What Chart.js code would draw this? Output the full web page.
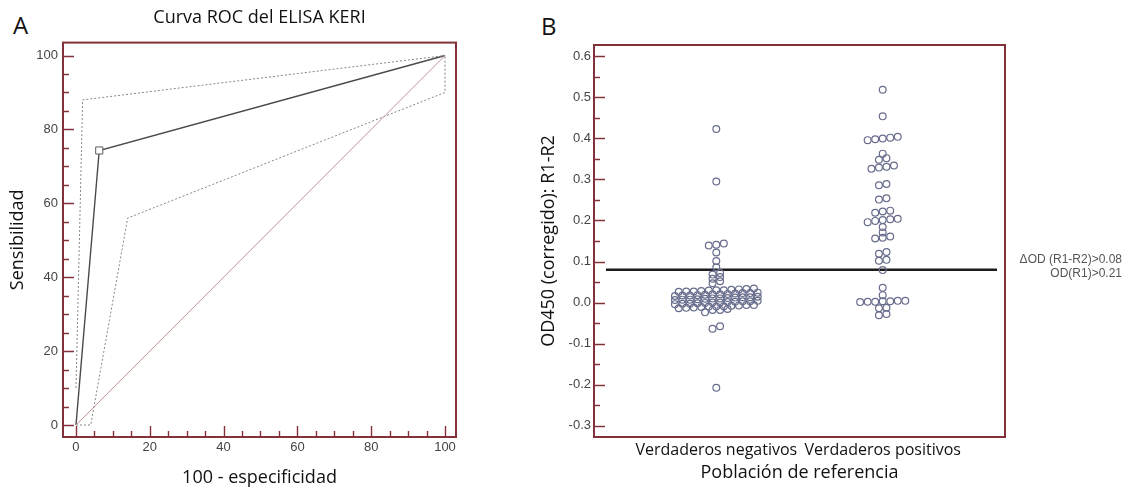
<!DOCTYPE html>
<html>
<head>
<meta charset="utf-8">
<script src="https://cdn.jsdelivr.net/npm/chart.js@4.4.1/dist/chart.umd.min.js"></script>
<style>
  body { margin: 0; background: #fff; width: 1136px; height: 491px; overflow: hidden; position: relative; }
  .panel { position: absolute; top: 0; }
  #wrapA { left: 0; }
  #wrapB { left: 520px; }
  .letra { position: absolute; font: 24px "Open Sans", sans-serif; color: #111; line-height: normal; }
</style>
</head>
<body>
<div class="letra" style="left:13px;top:8px">A</div>
<div class="letra" style="left:541px;top:9px">B</div>
<div class="panel" id="wrapA"><canvas id="roc" width="490" height="491"></canvas></div>
<div class="panel" id="wrapB"><canvas id="dots" width="616" height="491"></canvas></div>
<script>
// --- curva ROC ---
const rocFpr = [0, 6.3, 100];
const rocSens = [0, 74.3, 100];
const corteIdx = 1;                       // criterio óptimo (marcador cuadrado)
const icSupFpr = [0, 1.8, 100];
const icSupSens = [10, 88, 100];
const icInfFpr = [0, 4, 14, 100, 100];
const icInfSens = [0, 0, 56, 90, 100];
const diagonal = [0, 100];

// --- dot plot ---
const categorias = ['Verdaderos negativos', 'Verdaderos positivos'];
const negativos = [
  0.423, 0.295, 0.139, 0.141, 0.144, 0.122, 0.101, 0.086, 0.068, 0.072, 0.058, 0.062, 0.047, 0.052,
  0.026, 0.027, 0.027, 0.028, 0.029, 0.030, 0.030, 0.031, 0.032, 0.033, 0.034,
  0.016, 0.017, 0.017, 0.018, 0.019, 0.020, 0.020, 0.021, 0.022, 0.023, 0.023, 0.024,
  0.006, 0.007, 0.007, 0.008, 0.009, 0.010, 0.010, 0.011, 0.012, 0.013, 0.013, 0.014,
  -0.004, -0.003, -0.003, -0.002, -0.001, 0.000, 0.000, 0.001, 0.002, 0.003, 0.003, 0.004,
  -0.014, -0.013, -0.012, -0.011, -0.010, -0.010, -0.009, -0.008, -0.007, -0.006, -0.006,
  -0.024, -0.018, -0.018, -0.016, -0.064, -0.058, -0.208
];
const positivos = [
  0.519, 0.454, 0.396, 0.398, 0.400, 0.402, 0.404, 0.363, 0.348, 0.352,
  0.326, 0.329, 0.331, 0.334, 0.286, 0.289, 0.251, 0.254, 0.219, 0.222, 0.224,
  0.196, 0.199, 0.201, 0.203, 0.204, 0.184, 0.171, 0.156, 0.158, 0.161,
  0.119, 0.123, 0.102, 0.104, 0.079, 0.036, 0.018,
  0.001, 0.002, 0.002, 0.003, 0.003, 0.004, 0.004, -0.013, -0.014, -0.028, -0.031
];
const corte = 0.08;
const corteTexto = ['\u0394OD (R1-R2)>0.08', 'OD(R1)>0.21'];

const granate = '#82303a';
const fTick = { family: 'Liberation Sans', size: 13 };
const fTitulo = { family: 'Open Sans', size: 18, weight: 'normal' };

const zip = (xs, ys) => xs.map((x, i) => ({ x: x, y: ys[i] }));

// filas del dot plot: agrupa por 0.01 y reparte en horizontal, ordenado de menor a mayor
const binDots = 0.01, gapDots = 0.0452;
function enjambre(valores, centro) {
  const filas = new Map();
  valores.forEach(v => {
    const k = Math.round(v / binDots);
    if (!filas.has(k)) filas.set(k, []);
    filas.get(k).push(v);
  });
  const pts = [];
  filas.forEach(fila => {
    fila.sort((a, b) => a - b);
    fila.forEach((v, i) => pts.push({ x: centro + (i - (fila.length - 1) / 2) * gapDots, y: v }));
  });
  return pts;
}

// marco granate con marcas hacia dentro
const marco = {
  id: 'marco',
  afterDraw(chart, args, o) {
    const { ctx, chartArea: a } = chart;
    ctx.save();
    ctx.strokeStyle = granate;
    ctx.lineWidth = 2;
    ctx.strokeRect(a.left, a.top, a.right - a.left, a.bottom - a.top);
    ctx.lineWidth = 1.4;
    ctx.beginPath();
    const ys = chart.scales.y;
    for (let i = 0; i <= o.yN; i++) {
      const py = Math.round(ys.getPixelForValue(o.yFrom + i * o.yStep)) + 0.5;
      const len = i % o.yMajor === 0 ? 11 : 6;
      ctx.moveTo(a.left, py); ctx.lineTo(a.left + len, py);
    }
    if (o.xN) {
      const xs = chart.scales.x;
      for (let i = 0; i <= o.xN; i++) {
        const px = Math.round(xs.getPixelForValue(o.xFrom + i * o.xStep)) + 0.5;
        const len = i % o.xMajor === 0 ? 11 : 6;
        ctx.moveTo(px, a.bottom); ctx.lineTo(px, a.bottom - len);
      }
    }
    ctx.stroke();
    ctx.restore();
  }
};

// línea de corte y su leyenda
const lineaCorte = {
  id: 'lineaCorte',
  beforeDatasetsDraw(chart) {
    const { ctx, chartArea: a } = chart;
    const py = chart.scales.y.getPixelForValue(corte);
    ctx.save();
    ctx.strokeStyle = '#1c1c1c';
    ctx.lineWidth = 2.5;
    ctx.beginPath();
    ctx.moveTo(a.left + 12, py); ctx.lineTo(a.right - 8, py);
    ctx.stroke();
    ctx.fillStyle = '#555';
    ctx.font = '12px "Liberation Sans"';
    ctx.textAlign = 'right';
    ctx.textBaseline = 'middle';
    ctx.fillText(corteTexto[0], a.right + 117, py - 10);
    ctx.fillText(corteTexto[1], a.right + 117, py + 4);
    ctx.restore();
  }
};

const lineaBase = { showLine: true, pointRadius: 0, borderWidth: 1, fill: false };

new Chart(document.getElementById('roc'), {
  type: 'scatter',
  data: {
    datasets: [
      Object.assign({ data: zip(diagonal, diagonal), borderColor: '#b99690' }, lineaBase),
      Object.assign({ data: zip(icSupFpr, icSupSens), borderColor: '#858585', borderDash: [2, 2] }, lineaBase),
      Object.assign({ data: zip(icInfFpr, icInfSens), borderColor: '#858585', borderDash: [2, 2] }, lineaBase),
      {
        data: zip(rocFpr, rocSens), showLine: true, borderColor: '#4a4a4a', borderWidth: 1.4,
        pointStyle: 'rect', pointRadius: c => c.dataIndex === corteIdx ? 5 : 0,
        pointBackgroundColor: '#fff', pointBorderColor: '#5a5a5a', pointBorderWidth: 1
      }
    ]
  },
  options: {
    responsive: false, animation: false, events: [],
    layout: { padding: { left: 0, right: 34, top: 0, bottom: 0 } },
    plugins: {
      legend: { display: false }, tooltip: { enabled: false },
      title: { display: true, text: 'Curva ROC del ELISA KERI', font: fTitulo, color: '#111',
               padding: { top: 7, bottom: 14 }, fullSize: false },
      marco: { yFrom: 0, yStep: 5, yN: 20, yMajor: 4, xFrom: 0, xStep: 5, xN: 20, xMajor: 4 }
    },
    scales: {
      x: {
        type: 'linear', min: -3.52, max: 102.98,
        ticks: { stepSize: 20, includeBounds: false, padding: 3, color: '#444', font: fTick, maxRotation: 0 },
        grid: { display: false, drawTicks: false }, border: { display: false },
        title: { display: true, text: '100 - especificidad', font: fTitulo, color: '#111', padding: { top: 0, bottom: 2 } },
        afterFit(s) { s.height = 54; }
      },
      y: {
        type: 'linear', min: -3.25, max: 103.5,
        ticks: { stepSize: 20, includeBounds: false, padding: 5, color: '#444', font: fTick },
        grid: { display: false, drawTicks: false }, border: { display: false },
        title: { display: true, text: 'Sensibilidad', font: fTitulo, color: '#111', padding: { top: 7, bottom: 0 } },
        afterFit(s) { s.width = 63; }
      }
    }
  },
  plugins: [marco]
});

const puntoBase = { pointRadius: 3.4, borderColor: '#676c8c', borderWidth: 1.2, backgroundColor: 'rgba(0,0,0,0)' };

new Chart(document.getElementById('dots'), {
  type: 'scatter',
  data: {
    datasets: [
      Object.assign({ data: enjambre(negativos, 1) }, puntoBase),
      Object.assign({ data: enjambre(positivos, 2) }, puntoBase)
    ]
  },
  options: {
    responsive: false, animation: false, events: [],
    layout: { padding: { left: 0, right: 131, top: 45, bottom: 0 } },
    plugins: {
      legend: { display: false }, tooltip: { enabled: false },
      marco: { yFrom: -0.3, yStep: 0.05, yN: 18, yMajor: 2, xN: 0 }
    },
    scales: {
      x: {
        type: 'linear', min: 0.265, max: 2.735,
        afterBuildTicks(s) { s.ticks = [{ value: 1 }, { value: 2 }]; },
        ticks: { callback: (v, i) => categorias[i], padding: 4, color: '#111', autoSkip: false, maxRotation: 0,
                 font: { family: 'Open Sans', size: 16 } },
        grid: { display: false, drawTicks: false }, border: { display: false },
        title: { display: true, text: 'Población de referencia', font: fTitulo, color: '#111', padding: { top: 0, bottom: 7 } },
        afterFit(s) { s.height = 54; }
      },
      y: {
        type: 'linear', min: -0.328, max: 0.628,
        ticks: { stepSize: 0.1, includeBounds: false, padding: 3, color: '#444', font: fTick,
                 callback: v => v.toFixed(1) },
        grid: { display: false, drawTicks: false }, border: { display: false },
        title: { display: true, text: 'OD450 (corregido): R1-R2', font: fTitulo, color: '#111', padding: { top: 18, bottom: 0 } },
        afterFit(s) { s.width = 74; }
      }
    }
  },
  plugins: [marco, lineaCorte]
});
</script>
</body>
</html>
